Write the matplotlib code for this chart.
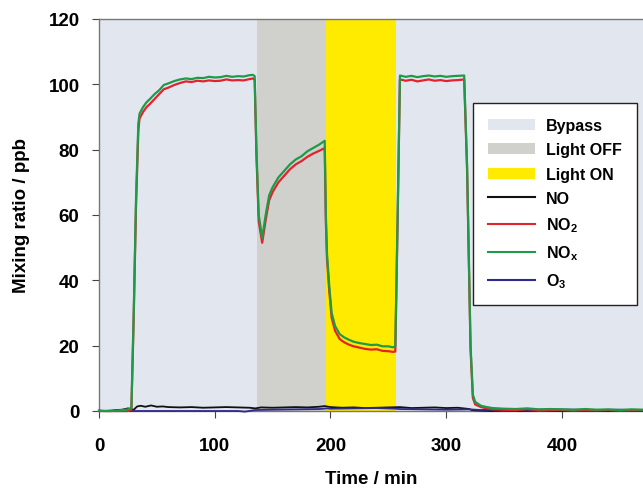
import matplotlib
matplotlib.use("Agg")
import matplotlib.pyplot as plt
from matplotlib.patches import Patch
from matplotlib.lines import Line2D
import numpy as np

plt.rcParams["font.family"] = ["Liberation Sans", "DejaVu Sans"]
plt.rcParams["mathtext.fontset"] = "custom"
plt.rcParams["mathtext.rm"] = "Liberation Sans:bold"
plt.rcParams["mathtext.bf"] = "Liberation Sans:bold"

# NOx / NO2 time axis (min)
t_n = [0, 5, 10, 15, 20, 25, 28, 30, 32, 34, 35, 38, 41, 44, 48, 52, 56, 60, 65, 70,
       75, 80, 85, 90, 95, 100, 105, 110, 115, 120, 125, 130, 133, 134.5, 136, 138,
       141, 144, 147, 150, 155, 160, 165, 170, 175, 180, 185, 190, 195, 196, 197, 199,
       201, 204, 208, 212, 216, 220, 225, 230, 235, 240, 245, 250, 254, 256, 258, 260,
       265, 270, 275, 280, 285, 290, 295, 300, 305, 310, 315.5, 318, 321, 323, 325,
       330, 335, 340, 350, 360, 370, 380, 390, 400, 410, 420, 430, 440, 450, 460, 470]

nox = [0.1, 0, 0, 0.1, 0.3, 0.5, 1, 30, 65, 88, 91, 93, 94.5, 95.5, 97, 98.2, 99.8,
       100.3, 101, 101.5, 101.8, 101.6, 102, 101.9, 102.3, 102.1, 102.2, 102.6, 102.3,
       102.5, 102.4, 102.8, 102.9, 102.5, 80, 60, 53, 60, 66, 68.5, 71.5, 73.5, 75.5,
       77, 78, 79.5, 80.5, 81.5, 82.7, 60, 48, 38, 30, 26, 23.5, 22.5, 21.8, 21.2,
       20.8, 20.5, 20.2, 20.3, 19.8, 19.8, 19.5, 19.8, 60, 102.7, 102.3, 102.6, 102.2,
       102.5, 102.7, 102.4, 102.6, 102.3, 102.5, 102.6, 102.7, 75, 20, 5, 2.8, 1.6,
       1.2, 0.9, 0.7, 0.6, 0.8, 0.5, 0.6, 0.5, 0.4, 0.6, 0.4, 0.5, 0.3, 0.5, 0.4]

no2 = [0, 0, 0, 0, 0, 0, 0.5, 29, 63, 86, 89.5, 91.5, 93, 94, 95.5, 97, 98.5, 99,
       99.8, 100.4, 100.9, 100.7, 101.1, 100.9, 101.2, 101, 101.1, 101.5, 101.2,
       101.3, 101.2, 101.6, 101.8, 101.4, 78.5, 58, 51.5, 58.5, 64.5, 67, 70, 72, 74,
       75.5, 76.5, 77.8, 78.8, 79.6, 80.5, 58, 46.5, 36.5, 28.5, 24.5, 22, 21, 20.3,
       19.8, 19.4, 19, 18.8, 18.9, 18.4, 18.3, 18.1, 18.2, 58, 101.5, 101.1, 101.4,
       100.9, 101.2, 101.5, 101.1, 101.3, 101, 101.2, 101.3, 101.5, 74, 19, 4, 2, 1.2,
       0.8, 0.5, 0.4, 0.2, 0.6, 0.2, 0.3, 0.3, 0.1, 0.4, 0.2, 0.3, 0.1, 0.3, 0.2]

t_no = [0, 5, 10, 15, 20, 25, 28, 30, 33, 36, 40, 45, 50, 55, 60, 70, 80, 90, 100,
        110, 120, 130, 135, 140, 150, 160, 170, 180, 190, 195, 200, 210, 220, 230, 240,
        250, 260, 270, 280, 290, 300, 310, 315, 320, 322, 325, 330, 340, 350, 360, 380,
        400, 420, 440, 460, 470]
no = [0.1, 0, 0.1, 0.3, 0.4, 0.8, 0.5, 0.4, 1.4, 1.6, 1.3, 1.7, 1.3, 1.4, 1.2, 1.1,
      1.2, 1.0, 1.1, 1.2, 1.1, 1.0, 0.8, 1.1, 1.0, 1.1, 1.2, 1.1, 1.3, 1.5, 1.2, 1.0,
      1.1, 0.9, 1.0, 1.1, 1.2, 0.9, 1.0, 1.1, 0.9, 1.0, 0.8, 0.6, 0.3, 0.2, 0.1, 0,
      0.1, 0, 0.1, 0, 0.1, 0, 0.1, 0]

t_o3 = [0, 50, 100, 120, 126, 135, 150, 170, 190, 197, 200, 220, 240, 256, 260, 280,
        300, 320, 330, 350, 370, 390, 410, 430, 450, 470]
o3 = [0, 0, 0, 0, -0.2, 0.3, 0.4, 0.5, 0.6, 0.8, 0.7, 0.8, 0.9, 0.7, 0.6, 0.5, 0.4,
      0.5, 0.3, 0.5, 0.3, 0.5, 0.4, 0.3, 0.4, 0.2]

# phases (min)
light_off = (136.8, 196.5)
light_on = (196.5, 256.7)

c_bypass = "#e1e6ef"
c_off = "#d0d0cd"
c_on = "#ffeb00"
c_no = "#111111"
c_no2 = "#e3232c"
c_nox = "#1f9a48"
c_o3 = "#2e2a8c"

fig = plt.figure(figsize=(6.43, 4.89), dpi=100)
ax = fig.add_axes([99 / 643, 1 - 412 / 489, 1 - 99 / 643, (412 - 20) / 489])

ax.axvspan(0, 470, color=c_bypass, lw=0, zorder=0)
ax.axvspan(*light_off, color=c_off, lw=0, zorder=0)
ax.axvspan(*light_on, color=c_on, lw=0, zorder=0)

ax.plot(t_no, no, color=c_no, lw=1.3, clip_on=False, zorder=3)
ax.plot(t_o3, o3, color=c_o3, lw=1.3, clip_on=False, zorder=3)
ax.plot(t_n, no2, color=c_no2, lw=1.6, clip_on=False, zorder=4)
ax.plot(t_n, nox, color=c_nox, lw=1.6, clip_on=False, zorder=5)

ax.set_xlim(0, 470)
ax.set_ylim(0, 120)
ax.set_xticks([0, 100, 200, 300, 400])
ax.set_yticks([0, 20, 40, 60, 80, 100, 120])
ax.spines["right"].set_visible(False)
for s in ["left", "top", "bottom"]:
    ax.spines[s].set_color("#777777")
    ax.spines[s].set_linewidth(1.0)
ax.tick_params(axis="x", direction="out", length=5, pad=14, labelsize=13.5, color="#444444")
ax.tick_params(axis="y", direction="out", length=5, pad=9, labelsize=13.5, color="#444444")
for lab in ax.get_xticklabels() + ax.get_yticklabels():
    lab.set_fontweight("bold")

ax.set_xlabel("Time / min", fontsize=13.5, fontweight="bold", labelpad=11)
ax.set_ylabel("Mixing ratio / ppb", fontsize=13.5, fontweight="bold", labelpad=13)

handles = [
    Patch(facecolor=c_bypass, edgecolor="none"),
    Patch(facecolor=c_off, edgecolor="none"),
    Patch(facecolor=c_on, edgecolor="none"),
    Line2D([], [], color=c_no, lw=1.5),
    Line2D([], [], color=c_no2, lw=1.5),
    Line2D([], [], color=c_nox, lw=1.5),
    Line2D([], [], color=c_o3, lw=1.5),
]
labels = ["Bypass", "Light OFF", "Light ON", "NO", "NO$_2$", "NO$_\\mathrm{x}$", "O$_3$"]
leg = ax.legend(handles, labels, loc="upper right",
                bbox_to_anchor=(637 / 643, 1 - 104 / 489), bbox_transform=fig.transFigure,
                prop={"size": 11.5, "weight": "bold"}, frameon=True, fancybox=False,
                framealpha=1, edgecolor="#222222", handlelength=2.9, handleheight=0.7,
                handletextpad=0.7, labelspacing=0.58, borderpad=0.95, borderaxespad=0)
leg.get_frame().set_linewidth(1.0)

fig.savefig("out.png", dpi=100)
